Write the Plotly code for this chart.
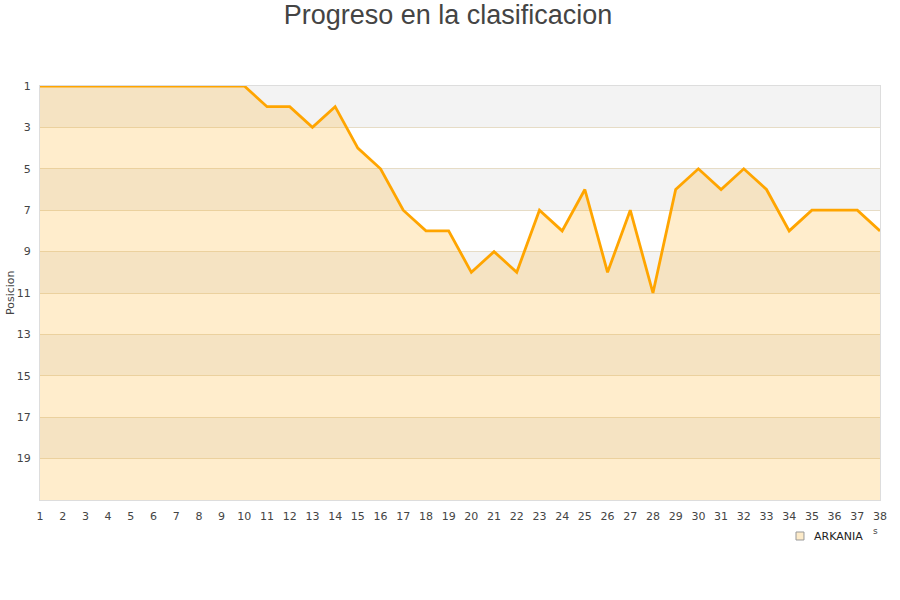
import plotly.graph_objects as go

jornadas = list(range(1, 39))
posiciones = [1, 1, 1, 1, 1, 1, 1, 1, 1, 1,
              2, 2, 3, 2, 4, 5, 7, 8, 8, 10,
              9, 10, 7, 8, 6, 10, 7, 11, 6, 5,
              6, 5, 6, 8, 7, 7, 7, 8]
team = "ARKANIA"
y_ticks = [1, 3, 5, 7, 9, 11, 13, 15, 17, 19]
y_bottom = 21

fig = go.Figure()

shapes = []
for y0 in [1, 5, 9, 13, 17]:
    shapes.append(dict(type="rect", xref="paper", yref="y", x0=0, x1=1, y0=y0, y1=y0 + 2,
                       fillcolor="#f3f3f3", line=dict(width=0), layer="below"))
# legend swatch
shapes.append(dict(type="rect", xref="paper", yref="paper", x0=0.9, x1=0.9095, y0=-0.0773, y1=-0.0966,
                   fillcolor="#fdebc9", line=dict(color="#999", width=1)))

fx = jornadas + jornadas[::-1]
fy = posiciones + [y_bottom] * len(jornadas)
fig.add_trace(go.Scatter(x=fx, y=fy, fill="toself", mode="none",
                         fillcolor="rgba(255,165,0,0.2)", showlegend=False, hoverinfo="skip"))
fig.add_trace(go.Scatter(x=jornadas, y=posiciones, mode="lines", name=team,
                         line=dict(color="#FFA500", width=2.8), showlegend=False))

annotations = [
    dict(text=team, xref="paper", yref="paper", x=0.9195, y=-0.087, xanchor="left", yanchor="middle",
         showarrow=False, font=dict(family="DejaVu Sans", size=11, color="#222")),
    dict(text="s", xref="paper", yref="paper", x=0.995, y=-0.0749, xanchor="center", yanchor="middle",
         showarrow=False, font=dict(family="DejaVu Sans", size=9, color="#444")),
    dict(text="Posicion", xref="paper", yref="paper", x=-0.0357, y=0.5, xanchor="center", yanchor="middle",
         textangle=-90, showarrow=False, font=dict(family="DejaVu Sans", size=11, color="#444")),
]

fig.update_layout(
    width=900, height=600,
    paper_bgcolor="white", plot_bgcolor="white",
    margin=dict(l=40, r=20, t=86, b=100),
    title=dict(text="Progreso en la clasificacion", x=0.4978, xanchor="center", y=0.975, yanchor="middle",
               font=dict(family="Liberation Sans, Arial", size=27, color="#444")),
    shapes=shapes,
    annotations=annotations,
    font=dict(family="DejaVu Sans", size=11, color="#444"),
    showlegend=False,
)
fig.update_xaxes(range=[1, 38], tickvals=jornadas, ticktext=[str(j) for j in jornadas],
                 showgrid=False, zeroline=False, showline=True, linecolor="#ddd", mirror=True,
                 ticks="", ticklabelstandoff=6, automargin=False,
                 tickfont=dict(size=11, color="#444"))
fig.update_yaxes(range=[y_bottom, 1], tickvals=y_ticks, showgrid=True, gridcolor="#e6dcc6",
                 zeroline=False, showline=True, linecolor="#ddd", mirror=True, ticks="",
                 ticklabelstandoff=6, automargin=False,
                 tickfont=dict(size=11, color="#444"))

fig.write_html("out.html", config={"displayModeBar": False},
               post_script="document.body.style.margin='0px';")
